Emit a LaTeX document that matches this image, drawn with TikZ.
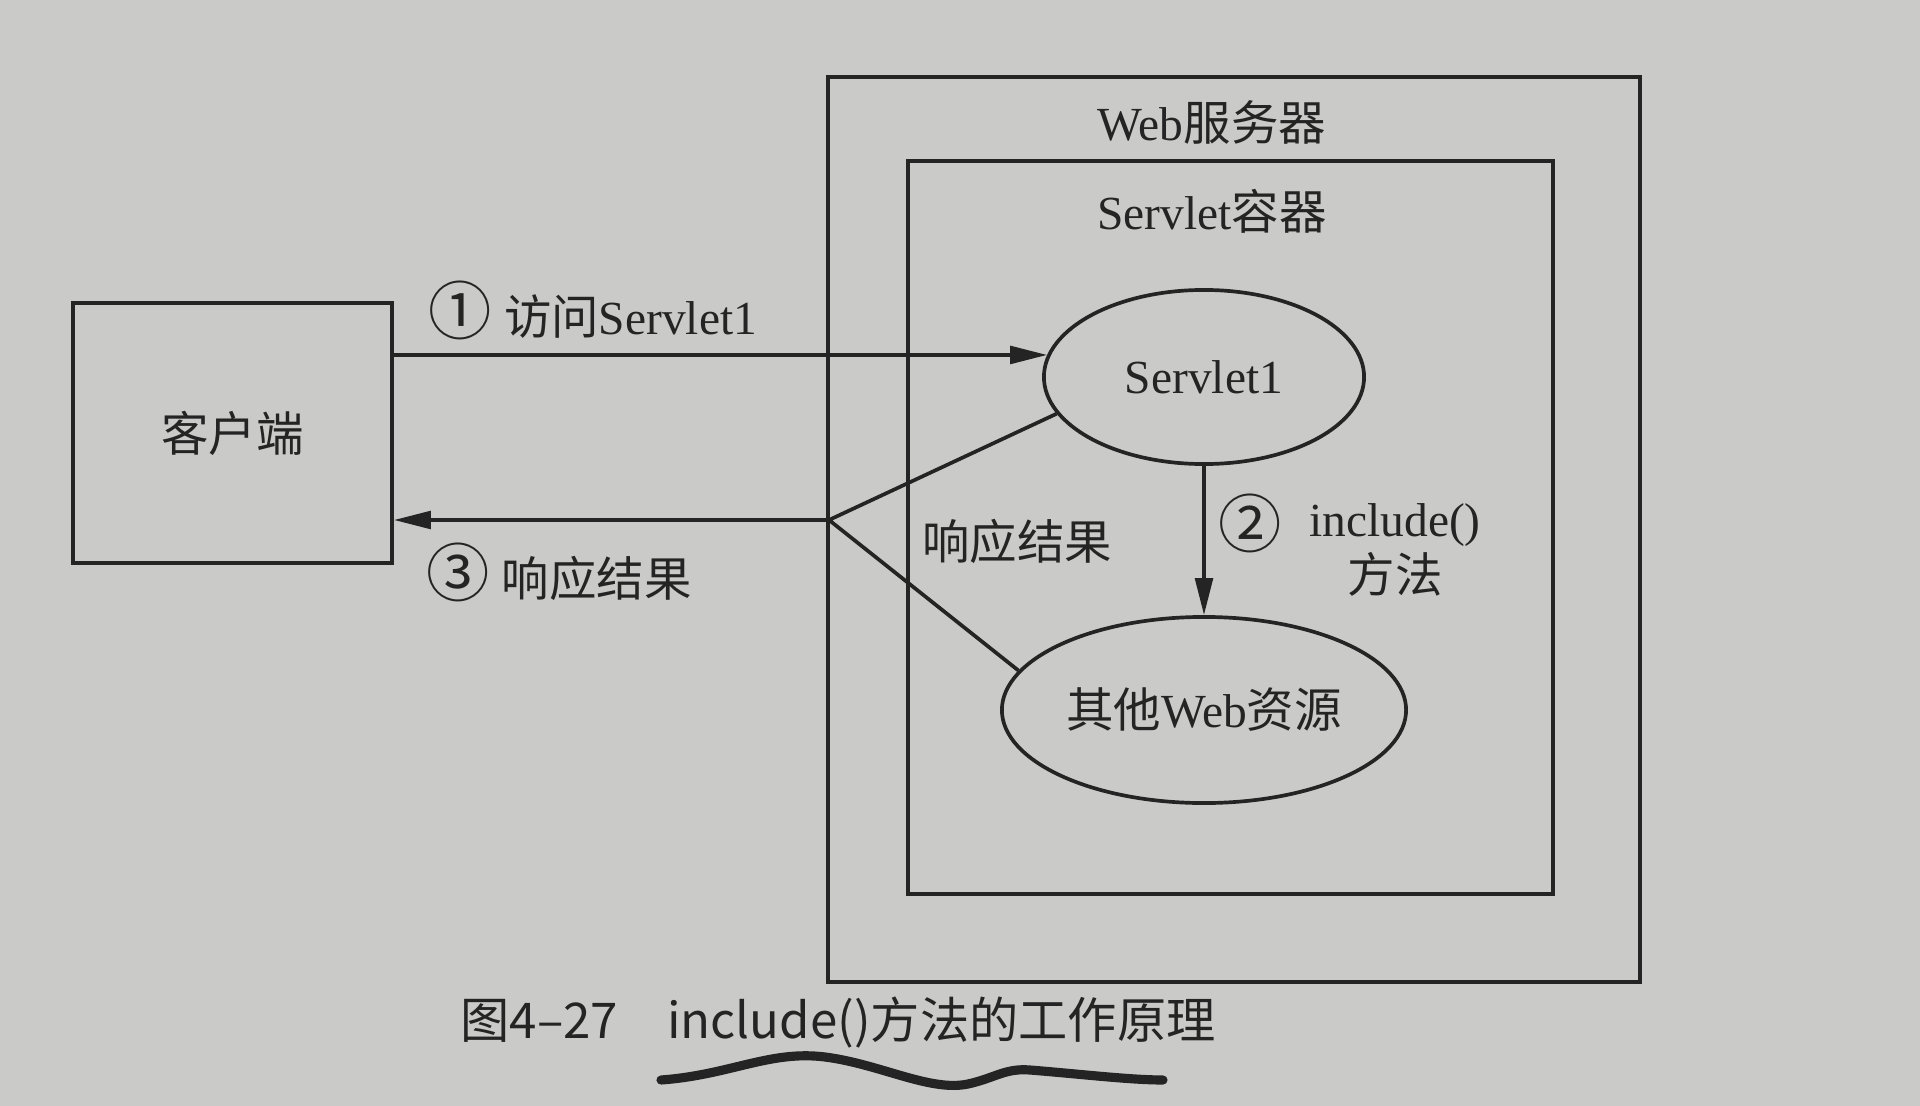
\documentclass[tikz,border=0pt]{standalone}
\usepackage{fontspec}
\setmainfont{Liberation Serif}
\newfontfamily\cjk{Noto Sans CJK SC}
\usetikzlibrary{arrows.meta, positioning, shapes.geometric}
\definecolor{paper}{HTML}{CACAC8}
\definecolor{ink}{HTML}{242424}
\newcommand{\zh}[1]{{\cjk #1}}
\newcommand{\circnum}[1]{{\cjk\fontsize{18}{18}\selectfont #1}}

\begin{document}
\begin{tikzpicture}[
    x=0.01cm, y=-0.01cm,
    every node/.style={font=\fontsize{13.5}{16}\selectfont, text=ink},
    box/.style={rectangle, draw=ink, line width=1.05pt, inner sep=0pt},
    res/.style={ellipse, draw=ink, line width=1.05pt, inner sep=0pt},
    lbl/.style={inner sep=1pt},
    arr/.style={-{Triangle[length=10.5pt, width=5pt]}, line width=1.05pt, draw=ink, fill=ink},
    link/.style={line width=1.05pt, draw=ink},
  ]
  \fill[paper] (0,0) rectangle (1920,1106);
  \useasboundingbox (0,0) rectangle (1920,1106);

  % server and container
  \node[box, minimum width=8.12cm, minimum height=9.05cm] (web) at (1234,529.5) {};
  \node[box, minimum width=6.45cm, minimum height=7.33cm] (cont) at (1230.5,527.5) {};
  \node[lbl] (webtxt) at (1212,122) {Web\zh{服务器}};
  \node[lbl] (conttxt) at (1212,211) {Servlet\zh{容器}};

  \node[box, minimum width=3.19cm, minimum height=2.6cm] (client) at (232.5,433) {\zh{客户端}};
  \node[res, minimum width=3.2cm, minimum height=1.74cm] (s1) at (1204,377) {Servlet1};
  \node[res, minimum width=4.04cm, minimum height=1.86cm] (other) at (1204,710) {\zh{其他}Web\zh{资源}};
  \coordinate (jn) at (829,520);

  \node[lbl] (l1) at (593,310) {\circnum{①} \zh{访问}Servlet1};
  \node[lbl] (l3) at (559,572) {\circnum{③} \zh{响应结果}};
  \node[lbl] (lr) at (1017,541) {\zh{响应结果}};
  \node[lbl] (n2) at (1250,523) {\circnum{②}};
  \node[lbl, align=center] (l2) at (1395,550) {include()\\\zh{方法}};

  \draw[arr] (s1.172 -| client.east) -- (s1.172);
  \draw[arr] (jn) -- (jn -| client.east);
  \draw[link] (s1.194) -- (jn) -- (other.168);
  \draw[arr] (s1.south) -- (other.north);

  % caption
  \node[font=\cjk\fontsize{14}{16}\selectfont] (cap) at (838,1022) {图4–27\hspace{1em}include()方法的工作原理};
  \draw[line width=2.6pt, line cap=round, ink] (661,1080) .. controls (730,1075) and (770,1050) .. (825,1057)
    .. controls (880,1064) and (930,1092) .. (968,1084) .. controls (995,1078) and (1005,1068) .. (1030,1070)
    .. controls (1080,1074) and (1130,1080) .. (1163,1080);
\end{tikzpicture}
\end{document}
